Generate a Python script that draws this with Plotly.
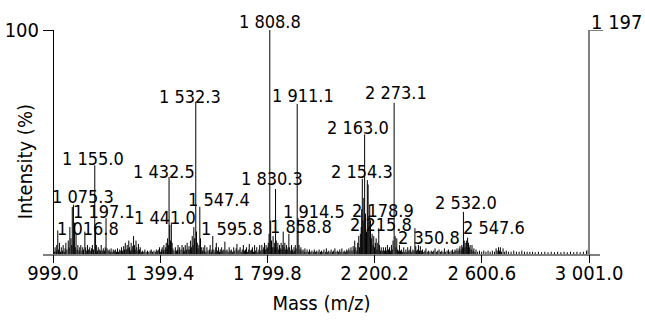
import plotly.graph_objects as go

# ---------------- data ----------------
PEAK_MZ = [1016.8, 1075.3, 1155.0, 1197.1, 1432.5, 1441.0, 1532.3, 1547.4, 1595.8,
           1808.8, 1830.3, 1858.8, 1911.1, 1914.5, 2154.3, 2163.0, 2178.9, 2215.8,
           2273.1, 2350.8, 2532.0, 2547.6]
PEAK_PCT = [10.5, 22, 39.6, 16, 34.4, 14, 68, 21, 8,
            100, 29, 10, 67, 16, 33.5, 53.4, 17, 11.5,
            67.5, 11.5, 18.8, 7.3]
PEAK_LABELS = ["1 016.8", "1 075.3", "1 155.0", "1 197.1", "1 432.5", "1 441.0", "1 532.3",
               "1 547.4", "1 595.8", "1 808.8", "1 830.3", "1 858.8", "1 911.1", "1 914.5",
               "2 154.3", "2 163.0", "2 178.9", "2 215.8", "2 273.1", "2 350.8", "2 532.0",
               "2 547.6"]

NOISE = [
    (1001, 2), (1004, 1), (1007, 3), (1011, 1.5), (1013, 4), (1020, 2), (1023, 5), (1027, 1),
    (1030, 3), (1034, 1.5), (1037, 4), (1041, 1), (1044, 2.5), (1047, 5), (1051, 2),
    (1056, 6), (1059, 3), (1062, 12), (1066, 7), (1069, 4), (1071, 21), (1079, 14), (1082, 3),
    (1085, 9), (1089, 2), (1092, 4), (1096, 1.5), (1099, 3),
    (1103, 4), (1107, 1.5), (1110, 3), (1113, 2), (1118, 10), (1121, 3),
    (1125, 1.5), (1128, 4), (1132, 2), (1136, 3), (1140, 1.5), (1143, 2.5), (1146, 4),
    (1150, 2), (1158, 11), (1161, 4), (1165, 1.5), (1168, 3), (1172, 2), (1176, 1.5),
    (1179, 4), (1183, 1.5), (1187, 2.5), (1191, 1.5), (1194, 3), (1201, 2.5),
    (1205, 1.5), (1209, 2), (1213, 1), (1216, 2.5), (1220, 1), (1224, 2), (1228, 1.5),
    (1232, 2), (1236, 1), (1240, 2.5), (1244, 1), (1248, 2), (1252, 1.5), (1255, 3),
    (1259, 1.5), (1263, 3.5), (1266, 2), (1269, 5), (1273, 2), (1276, 4), (1279, 2.5),
    (1282, 6), (1285, 3), (1289, 1.5), (1291, 5), (1294, 2), (1297, 3.5), (1300, 8), (1303, 4),
    (1306, 2), (1309, 6), (1312, 3), (1316, 1.5), (1318, 4.5), (1322, 2), (1325, 3), (1329, 1),
    (1333, 1.5), (1338, 1), (1342, 2), (1347, 1), (1352, 1.5), (1357, 1), (1362, 1.5),
    (1366, 2), (1371, 1), (1376, 1.5), (1381, 1), (1385, 2), (1390, 1.5), (1394, 2),
    (1397, 3), (1401, 1), (1404, 2), (1407, 3), (1411, 1.5), (1413, 4), (1417, 2), (1420, 3),
    (1422, 5), (1425, 2), (1427, 7), (1430, 4), (1435, 13), (1438, 6), (1444, 5), (1447, 2.5),
    (1451, 1.5), (1456, 3), (1460, 1.5), (1464, 2), (1466, 4), (1470, 1.5), (1472, 3),
    (1477, 2), (1481, 4), (1485, 1.5), (1487, 3), (1491, 1.5), (1493, 4), (1497, 2),
    (1500, 5), (1504, 2), (1507, 3.5), (1510, 2), (1513, 6), (1516, 3), (1519, 8), (1522, 4),
    (1525, 12), (1528, 7), (1535, 10), (1538, 5), (1541, 2.5), (1544, 4), (1550, 7), (1553, 3),
    (1557, 1.5), (1560, 3), (1564, 1.5), (1566, 4), (1570, 1), (1574, 3), (1578, 1.5),
    (1583, 2), (1586, 4), (1590, 1), (1593, 2), (1600, 2), (1604, 1), (1607, 3), (1609, 5),
    (1613, 1.5), (1617, 3), (1621, 1), (1624, 2), (1629, 3), (1633, 1.5), (1637, 2),
    (1641, 5.5), (1645, 1.5), (1649, 2), (1653, 1), (1657, 3), (1661, 1.5), (1665, 2),
    (1669, 1), (1674, 3), (1678, 1.5), (1683, 2.5), (1686, 4.5), (1690, 1.5), (1694, 2),
    (1698, 3), (1702, 1), (1706, 2), (1710, 4), (1714, 1.5), (1718, 2), (1722, 3),
    (1726, 1), (1730, 2), (1732, 4.5), (1736, 1.5), (1740, 2), (1744, 3), (1748, 1),
    (1752, 4), (1756, 1.5), (1760, 3), (1764, 1), (1768, 2), (1771, 4), (1775, 1.5),
    (1779, 4), (1783, 2), (1786, 3), (1789, 5), (1792, 2), (1795, 4), (1798, 2.5), (1801, 3),
    (1803, 5), (1806, 9),
    (1812, 15), (1815, 6), (1818, 3), (1821, 8), (1824, 3), (1827, 5), (1833, 6), (1836, 3),
    (1839, 5), (1842, 2), (1845, 4), (1848, 2.5), (1851, 5), (1854, 2), (1857, 4), (1862, 3),
    (1865, 5), (1868, 2), (1871, 4), (1874, 2), (1877, 3), (1880, 9), (1883, 3), (1887, 1.5),
    (1890, 4), (1893, 2), (1896, 1), (1899, 3), (1902, 1.5), (1904, 4), (1907, 2.5),
    (1918, 4), (1922, 2), (1925, 3), (1929, 1.5), (1933, 2), (1937, 1), (1940, 2.5),
    (1944, 1), (1948, 2), (1953, 1), (1957, 2), (1962, 1), (1966, 1.5), (1971, 1),
    (1975, 2), (1980, 1), (1984, 1.5), (1989, 1), (1993, 2), (1998, 1), (2002, 1.5),
    (2007, 1), (2011, 2), (2016, 1), (2020, 2.5), (2025, 1), (2029, 1.5), (2034, 1),
    (2038, 2), (2043, 1), (2047, 1.5), (2052, 2.5), (2056, 1), (2061, 1.5), (2065, 1),
    (2070, 2), (2074, 1), (2078, 2.5), (2083, 1), (2087, 1.5), (2092, 1), (2096, 2),
    (2100, 1.5), (2104, 2.5), (2108, 1.5), (2112, 3), (2116, 1.5), (2120, 3.5), (2124, 2),
    (2126, 6), (2130, 3), (2134, 1.5), (2137, 5), (2141, 8), (2144, 3), (2147, 9), (2150, 12),
    (2152, 20), (2157, 15), (2160, 25), (2166, 18), (2170, 10), (2173, 33), (2176, 31),
    (2182, 22), (2185, 15), (2188, 7), (2191, 9), (2194, 4), (2197, 8), (2200, 3), (2203, 5),
    (2206, 7), (2209, 2), (2212, 5), (2218, 4), (2222, 1.5), (2225, 3), (2229, 1.5),
    (2233, 3), (2237, 1.5), (2241, 3), (2245, 1.5), (2248, 4), (2252, 2), (2256, 3),
    (2260, 1.5), (2263, 4), (2266, 2), (2269, 6), (2277, 8), (2280, 3), (2283, 7), (2286, 2),
    (2290, 1.5), (2293, 4), (2297, 1.5), (2301, 2), (2305, 1), (2309, 3), (2313, 1),
    (2317, 2), (2321, 1), (2324, 3), (2328, 1.5), (2332, 2), (2335, 3.5), (2339, 1),
    (2343, 2), (2347, 1.5), (2354, 3.5), (2357, 1.5), (2361, 2), (2364, 4), (2368, 1.5),
    (2371, 3.5), (2375, 1.5), (2379, 2), (2384, 1), (2388, 1.5), (2392, 2.5), (2397, 1),
    (2402, 1.5), (2407, 1), (2412, 1.5), (2417, 1), (2421, 1.5), (2426, 2.5), (2431, 1),
    (2436, 1.5), (2441, 2), (2446, 1), (2451, 1.5), (2456, 1), (2461, 2.5), (2466, 1),
    (2471, 1.5), (2476, 2), (2481, 1), (2486, 1.5), (2491, 2), (2496, 1), (2500, 2),
    (2504, 1.5), (2508, 2.5), (2512, 1.5), (2516, 2.5), (2519, 3.5), (2523, 2), (2526, 4),
    (2529, 3), (2535, 6), (2538, 3), (2541, 5), (2544, 6), (2551, 5), (2554, 3), (2557, 4),
    (2561, 2), (2564, 4), (2568, 1.5), (2571, 2.5), (2575, 1), (2579, 2),
    (2585, 1), (2592, 1.5), (2600, 1), (2608, 1.5), (2616, 1), (2624, 1.5), (2632, 1),
    (2640, 1.5), (2648, 1), (2654, 2.5), (2658, 1.5), (2663, 3), (2667, 1.5), (2670, 3),
    (2674, 1), (2680, 2.5), (2686, 1), (2692, 1.5), (2700, 1), (2710, 1), (2720, 1.5),
    (2730, 1), (2740, 1), (2750, 1.5), (2760, 1), (2770, 1), (2780, 1), (2790, 1),
    (2800, 0.8), (2812, 1), (2824, 0.8), (2836, 1), (2848, 0.8), (2860, 1), (2872, 0.8),
    (2884, 1), (2896, 0.8), (2908, 1), (2920, 0.8), (2932, 1), (2944, 0.8), (2956, 1),
    (2968, 0.8), (2980, 1), (2992, 1.5), (2998, 2),
]

X_TICKS = [999.0, 1399.4, 1799.8, 2200.2, 2600.6, 3001.0]
X_TICK_LABELS = ["999.0", "1 399.4", "1 799.8", "2 200.2", "2 600.6", "3 001.0"]
ABS_MAX = 1197
ABS_MAX_LABEL = "1 197"

# ---------------- layout helpers (pixel offsets of peak labels) ----------------
LABEL_OFFSETS = [(30, 3), (10, 9), (-2, 8), (-2, 8), (-5, 6), (-6, 6), (-6, 6), (19, 8), (19, 9),
                 (0, 10), (-4, 12), (18, 6), (6, 9), (16, 8), (0, 8), (-7, 8), (14, 6), (2, 5),
                 (2, 11), (14, -8), (3, 10), (26, 11)]

FONT = "DejaVu Sans Condensed, DejaVu Sans, sans-serif"
X_RANGE = [961.65, 3042.1]

# ---------------- build sticks ----------------
all_mz = [m for m, _ in NOISE] + PEAK_MZ
all_pct = [p for _, p in NOISE] + PEAK_PCT
xs, ys = [], []
for m, p in zip(all_mz, all_pct):
    xs += [m, m, None]
    ys += [0, p, None]

fig = go.Figure()
fig.add_trace(go.Scatter(x=xs, y=ys, mode="lines", line=dict(color="black", width=1),
                         hoverinfo="skip", showlegend=False))
fig.add_trace(go.Scatter(x=[3001.0], y=[0], xaxis="x2", yaxis="y2", mode="markers",
                         marker=dict(opacity=0), hoverinfo="skip", showlegend=False))

for (m, p, lab), (dx, dy) in zip(zip(PEAK_MZ, PEAK_PCT, PEAK_LABELS), LABEL_OFFSETS):
    fig.add_annotation(x=m, y=p, text=lab, showarrow=False, xanchor="center",
                       yanchor="middle", xshift=dx, yshift=dy - 1,
                       font=dict(family=FONT, size=18, color="black"))

fig.add_annotation(xref="paper", yref="paper", x=-0.0323, y=0.41, text="Intensity (%)",
                   textangle=-90, showarrow=False, xanchor="center", yanchor="middle",
                   font=dict(family=FONT, size=20, color="black"))
fig.add_annotation(xref="paper", yref="paper", x=1.0305, y=1.036, text=ABS_MAX_LABEL,
                   showarrow=False, xanchor="center", yanchor="middle",
                   font=dict(family=FONT, size=20, color="black"))

fig.update_layout(
    width=645, height=320,
    margin=dict(l=43, r=45, t=30, b=66),
    paper_bgcolor="white", plot_bgcolor="white",
    font=dict(family=FONT, size=20, color="black"),
    xaxis=dict(range=X_RANGE, tickvals=X_TICKS, ticktext=X_TICK_LABELS,
               showline=True, linecolor="#808080", linewidth=2, ticks="",
               showgrid=False, zeroline=False, automargin=False,
               title=dict(text="Mass (m/z)", font=dict(size=20), standoff=12),
               tickfont=dict(size=20)),
    xaxis2=dict(range=X_RANGE, tickvals=X_TICKS, overlaying="x", anchor="y",
                side="bottom", showticklabels=False, showline=False, ticks="outside",
                ticklen=8, tickcolor="black", tickwidth=1, showgrid=False,
                zeroline=False, automargin=False),
    yaxis=dict(range=[0, 100], tickvals=[100], ticktext=["100"], anchor="free",
               position=0.01795, showline=True, linecolor="black", linewidth=1,
               ticks="outside", ticklen=10, tickcolor="black", showgrid=False,
               zeroline=False, tickfont=dict(size=20), automargin=False),
    yaxis2=dict(range=[0, ABS_MAX], tickvals=[ABS_MAX], ticktext=[""], overlaying="y",
                side="right", anchor="free", position=0.98025, showline=True,
                linecolor="#808080", linewidth=2, ticks="outside", ticklen=13,
                tickcolor="#808080", tickwidth=1, showgrid=False, zeroline=False,
                automargin=False),
)

fig.write_html("out.html", post_script="document.body.style.margin='0';",
               config={"displayModeBar": False})
